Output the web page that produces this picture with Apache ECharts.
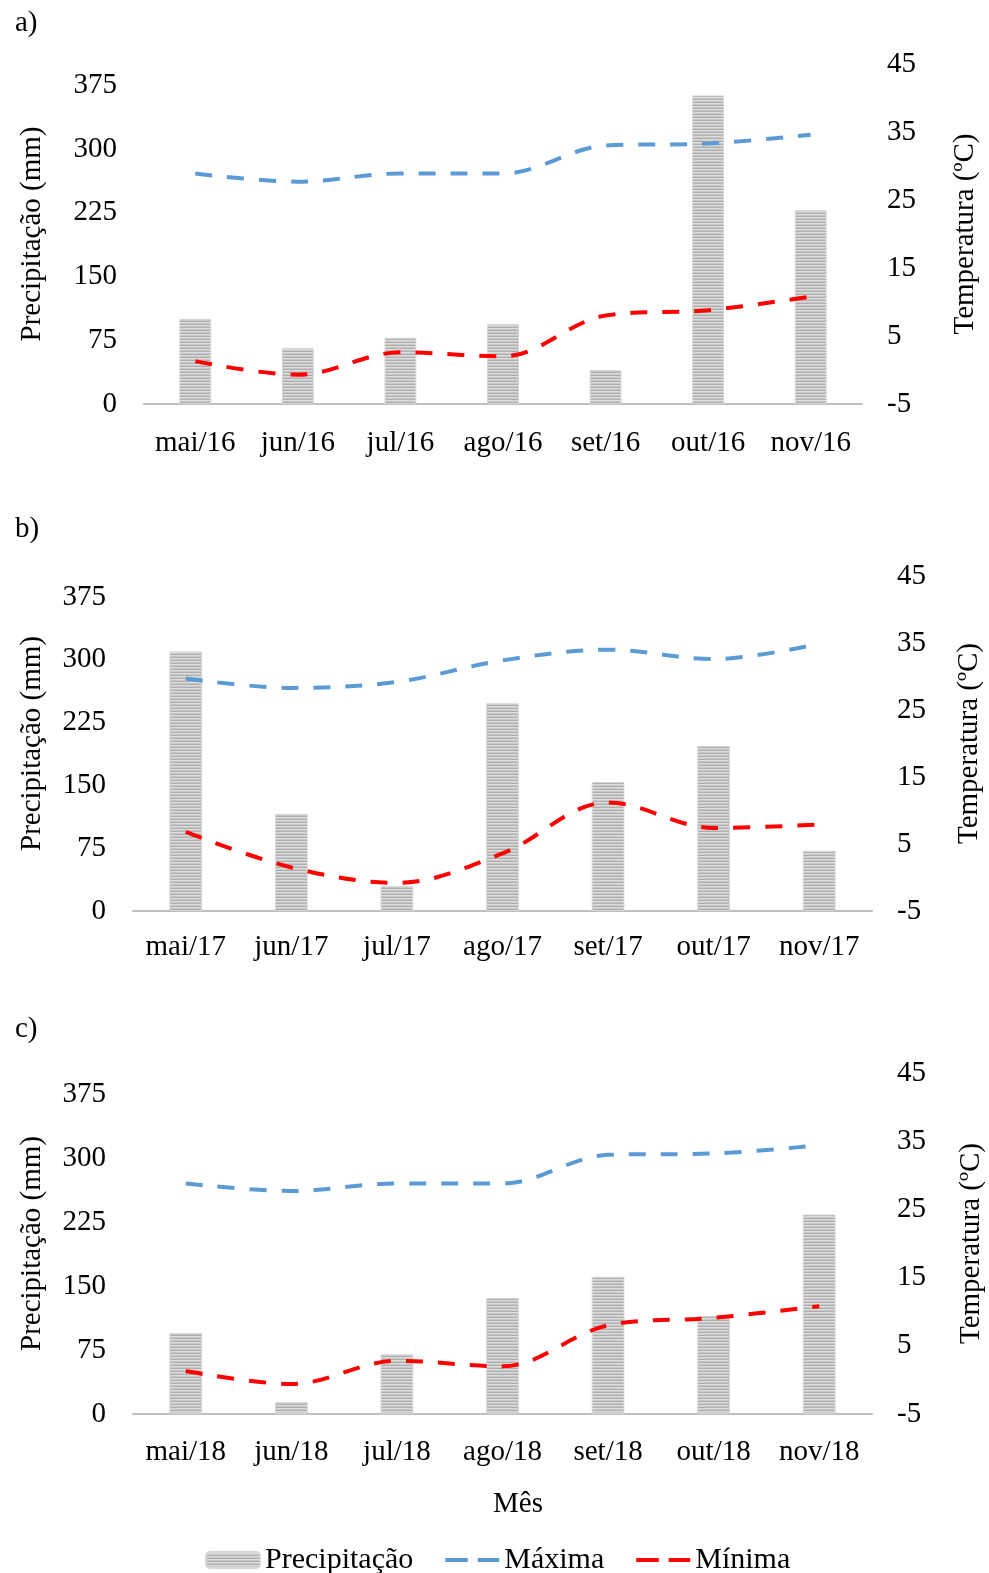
<!DOCTYPE html>
<html><head><meta charset="utf-8">
<script src="https://cdn.jsdelivr.net/npm/echarts@6/dist/echarts.min.js"></script>
<style>html,body{margin:0;padding:0;background:#fff}#c{width:989px;height:1573px}</style>
</head><body><div id="c"></div>
<script>
const categoriesA = ['mai/16','jun/16','jul/16','ago/16','set/16','out/16','nov/16'];
const categoriesB = ['mai/17','jun/17','jul/17','ago/17','set/17','out/17','nov/17'];
const categoriesC = ['mai/18','jun/18','jul/18','ago/18','set/18','out/18','nov/18'];

const precipA = [100, 66, 78, 94, 40, 363, 228];
const maxA    = [28.9, 27.7, 28.9, 28.9, 33.0, 33.3, 34.6];
const minA    = [1.3, -0.7, 2.6, 2.0, 8.0, 8.8, 10.8];

const precipB = [310, 116, 30, 248, 154, 197, 72];
const maxB    = [29.7, 28.3, 29.2, 32.4, 34.0, 32.6, 34.9];
const minB    = [6.8, 1.5, -0.8, 3.6, 11.2, 7.4, 7.9];

const precipC = [95, 14, 70, 136, 161, 115, 234];
const maxC    = [28.8, 27.7, 28.8, 28.8, 33.0, 33.2, 34.4];
const minC    = [1.3, -0.6, 2.8, 2.0, 8.0, 9.1, 10.8];

const precipTickLabels = [0, 75, 150, 225, 300, 375];
const tempTickLabels = [-5, 5, 15, 25, 35, 45];
const panelLabels = ['a)', 'b)', 'c)'];

const FONT = '"Liberation Serif", "Times New Roman", serif';
const FS = 29;

// stripe pattern for bars
const pc = document.createElement('canvas');
pc.width = 4; pc.height = 3;
const pctx = pc.getContext('2d');
['#aeaeae', '#dcdcdc', '#c8c8c8'].forEach((col, i) => { pctx.fillStyle = col; pctx.fillRect(0, i, 4, 1); });
const barFill = { image: pc, repeat: 'repeat' };

const grids = [
  { left: 144, right: 127, top: 64, height: 340, outerBoundsMode: 'none', containLabel: false },
  { left: 133, right: 117, top: 576, height: 335, outerBoundsMode: 'none', containLabel: false },
  { left: 133, right: 117, top: 1073, height: 341, outerBoundsMode: 'none', containLabel: false }
];
const nameGaps = [[97, 89], [86, 83], [86, 85]];
const xMargins = [25, 22, 24];
const rMargins = [25, 25, 25];
const cats = [categoriesA, categoriesB, categoriesC];
const precs = [precipA, precipB, precipC];
const maxs = [maxA, maxB, maxC];
const mins = [minA, minB, minC];

const xAxis = [], yAxis = [], series = [];
for (let i = 0; i < 3; i++) {
  xAxis.push({
    type: 'category', gridIndex: i, data: cats[i],
    axisLine: { lineStyle: { color: '#bfbfbf', width: 2 } },
    axisTick: { show: false },
    axisLabel: { color: '#000', fontFamily: FONT, fontSize: FS, margin: xMargins[i], interval: 0 }
  });
  yAxis.push({
    type: 'value', gridIndex: i, min: 0, max: 400, interval: 75, position: 'left',
    name: 'Precipitação (mm)', nameLocation: 'middle', nameRotate: 90, nameGap: nameGaps[i][0],
    nameTextStyle: { color: '#000', fontFamily: FONT, fontSize: FS },
    axisLine: { show: false }, axisTick: { show: false }, splitLine: { show: false },
    axisLabel: { color: '#000', fontFamily: FONT, fontSize: FS, margin: 27,
      formatter: v => precipTickLabels.includes(v) ? String(v) : '' }
  });
  yAxis.push({
    type: 'value', gridIndex: i, min: -5, max: 45, interval: 10, position: 'right',
    name: 'Temperatura (ºC)', nameLocation: 'middle', nameRotate: 90, nameGap: nameGaps[i][1],
    nameTextStyle: { color: '#000', fontFamily: FONT, fontSize: FS },
    axisLine: { show: false }, axisTick: { show: false }, splitLine: { show: false },
    axisLabel: { color: '#000', fontFamily: FONT, fontSize: FS, margin: rMargins[i],
      formatter: v => tempTickLabels.includes(v) ? String(v) : '' }
  });
  series.push({
    name: 'Precipitação', type: 'bar', xAxisIndex: i, yAxisIndex: 2 * i,
    data: precs[i], barWidth: '31%',
    itemStyle: { color: barFill, borderColor: '#d6d6d6', borderWidth: 1 }
  });
  series.push({
    name: 'Máxima', type: 'line', xAxisIndex: i, yAxisIndex: 2 * i + 1,
    data: maxs[i], smooth: 0.35, symbol: 'none', z: 5,
    itemStyle: { color: '#5B9BD5' },
    lineStyle: { color: '#5B9BD5', width: 4, type: [17, 15] }
  });
  series.push({
    name: 'Mínima', type: 'line', xAxisIndex: i, yAxisIndex: 2 * i + 1,
    data: mins[i], smooth: 0.35, symbol: 'none', z: 5,
    itemStyle: { color: '#FF0000' },
    lineStyle: { color: '#FF0000', width: 4, type: [17, 15] }
  });
}

const dashIcon = 'path://M0,0L0.01,0M0,16L0.01,16M0,6L23,6L23,10L0,10ZM33,6L55,6L55,10L33,10Z';

const chart = echarts.init(document.getElementById('c'), null, { renderer: 'canvas' });
chart.setOption({
  animation: false,
  backgroundColor: '#fff',
  title: panelLabels.map((t, i) => ({
    text: t, left: 10, top: [4, 510, 1010][i],
    textStyle: { color: '#000', fontFamily: FONT, fontSize: FS, fontWeight: 'normal' }
  })),
  grid: grids,
  xAxis: xAxis,
  yAxis: yAxis,
  series: series,
  legend: {
    data: [
      { name: 'Precipitação' },
      { name: 'Máxima', icon: dashIcon, itemStyle: { color: '#5B9BD5' } },
      { name: 'Mínima', icon: dashIcon, itemStyle: { color: '#FF0000' } }
    ],
    left: 200, top: 1540, itemWidth: 54, itemHeight: 16, itemGap: 32,
    textStyle: { color: '#000', fontFamily: FONT, fontSize: 30 }
  },
  graphic: [{
    type: 'text', left: 493, top: 1490,
    style: { text: 'Mês', fill: '#000', font: FS + 'px ' + FONT }
  }]
});
</script></body></html>
